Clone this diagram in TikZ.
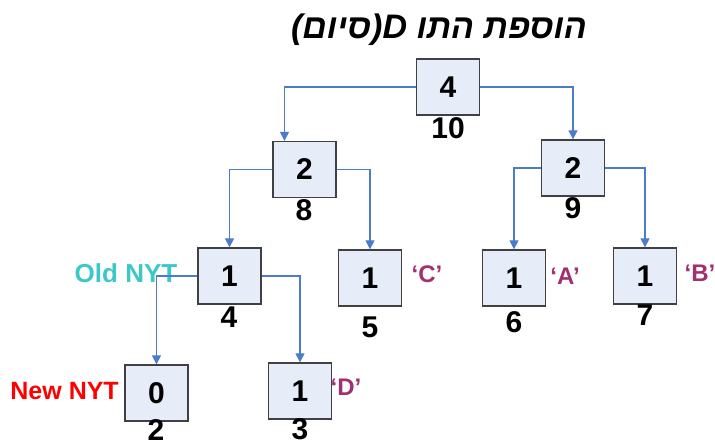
\documentclass[tikz,border=0pt]{standalone}
\usepackage{fontspec}
\setmainfont{Liberation Sans}
\newfontfamily\hebfont[Script=Hebrew]{Liberation Sans}
\TeXXeTstate=1
\usetikzlibrary{arrows.meta}
\definecolor{boxfill}{HTML}{E7EDF8}
\definecolor{edgeblue}{HTML}{4A7CC9}
\definecolor{oldcyan}{HTML}{3CC8C8}
\definecolor{symcol}{HTML}{A03070}

\begin{document}
\begin{tikzpicture}[x=1pt, y=-1pt,
    box/.style={draw=black!75, line width=1.3pt, fill=boxfill, minimum width=63pt, minimum height=56pt, inner sep=0pt, font=\fontsize{30}{30}\selectfont\bfseries},
    idx/.style={inner sep=0pt, font=\fontsize{30}{30}\selectfont\bfseries},
    sym/.style={inner sep=0pt, text=symcol, font=\fontsize{24}{24}\selectfont\bfseries},
    edge/.style={draw=edgeblue, line width=1.2pt, -{Triangle[width=9pt,length=9pt]}}]
      \useasboundingbox (0, 0) rectangle (715, 443);

      \node (title) at (439, 30) {\hebfont\fontsize{34}{34}\selectfont\bfseries\itshape\beginR הוספת התו \beginL D\endL(סיום)\endR};

      % tree nodes
      \node[box] (root) at (448, 87) {4};
      \node[box] (left) at (304.5, 169.5) {2};
      \node[box] (right) at (573, 168) {2};
      \node[box] (oldnyt) at (229.5, 276) {1};
      \node[box] (symC) at (370, 278) {1};
      \node[box] (symA) at (514, 278) {1};
      \node[box] (symB) at (645, 276) {1};
      \node[box] (newnyt) at (156.5, 393) {0};
      \node[box] (symD) at (300, 391) {1};

      % node numbers
      \node[idx] (n10) at (448, 128) {10};
      \node[idx] (n8) at (304, 210) {8};
      \node[idx] (n9) at (573, 208) {9};
      \node[idx] (n4) at (229, 317) {4};
      \node[idx] (n5) at (370, 327) {5};
      \node[idx] (n6) at (514, 322) {6};
      \node[idx] (n7) at (645, 315) {7};
      \node[idx] (n2) at (156, 430) {2};
      \node[idx] (n3) at (300, 429) {3};

      % symbols
      \node[sym] (lblC) at (427, 274) {‘C’};
      \node[sym] (lblA) at (565, 276) {‘A’};
      \node[sym] (lblB) at (700, 273) {‘B’};
      \node[sym] (lblD) at (346, 387) {‘D’};
      \node[inner sep=0pt, text=oldcyan, font=\fontsize{26}{26}\selectfont\bfseries] (oldtxt) at (126, 273) {Old NYT};
      \node[inner sep=0pt, text=red, font=\fontsize{25}{25}\selectfont\bfseries, anchor=east] (newtxt) at (119, 391) {New NYT};

      \draw[edge] (root.west) -| ([xshift=-20pt]left.north);
      \draw[edge] (root.east) -| (right.north);
      \draw[edge] (left.west) -| (oldnyt.north);
      \draw[edge] (left.east) -| (symC.north);
      \draw[edge] (right.west) -| (symA.north);
      \draw[edge] (right.east) -| (symB.north);
      \draw[edge] (oldnyt.west) -| (newnyt.north);
      \draw[edge] (oldnyt.east) -| (symD.north);
    \end{tikzpicture}
\end{document}
